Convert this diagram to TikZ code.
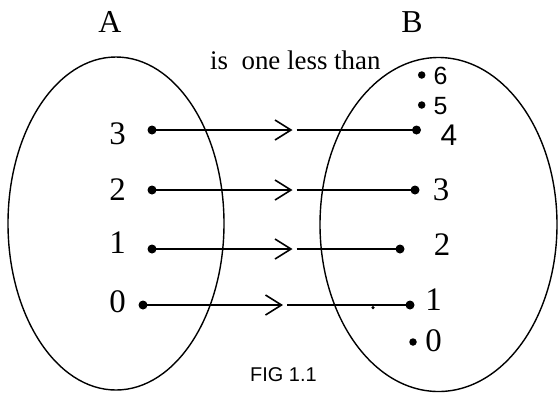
\documentclass[tikz,border=0pt]{standalone}
\usepackage{fontspec}
\setmainfont{Liberation Serif}
\newfontfamily\arialf{Liberation Sans}
\usetikzlibrary{arrows.meta}
\begin{document}
\begin{tikzpicture}[x=1bp,y=-1bp,
  dotnode/.style={circle,fill=black,inner sep=0pt,minimum size=9bp},
  smalldot/.style={circle,fill=black,inner sep=0pt,minimum size=7.5bp},
  lbl/.style={inner sep=0pt,anchor=base,font=\fontsize{33}{33}\selectfont},
  conn/.style={line width=1.6bp},
  barb/.style={line width=1.6bp,-{Straight Barb[length=16bp,width=20bp,line width=1.6bp]}},
  setline/.style={line width=1.4bp}]
\useasboundingbox (0,0) rectangle (558,392);
% sets
\draw[setline] (116,223.5) ellipse [x radius=108, y radius=166.5];
\draw[setline] (438.5,224.5) ellipse [x radius=118.5, y radius=167];
% titles
\node[lbl,font=\fontsize{32}{32}\selectfont] (tA) at (110,32) {A};
\node[lbl,font=\fontsize{32}{32}\selectfont] (tB) at (412,32) {B};
\node[inner sep=0pt,anchor=base west,font=\fontsize{27}{27}\selectfont] (rel) at (210,69) {is\ \ one less than};
\node[inner sep=0pt,anchor=base west,font=\arialf\fontsize{20}{20}\selectfont] (fig) at (250,381) {FIG 1.1};
% left labels
\node[lbl] (l3) at (117.5,144.5) {3};
\node[lbl] (l2) at (117.5,200.5) {2};
\node[lbl] (l1) at (117.5,253.5) {1};
\node[lbl] (l0) at (117.5,312.5) {0};
% right labels
\node[lbl,font=\arialf\fontsize{25}{25}\selectfont] (r6) at (440.5,84) {6};
\node[lbl,font=\arialf\fontsize{25}{25}\selectfont] (r5) at (440.5,114) {5};
\node[lbl,font=\arialf\fontsize{30}{30}\selectfont] (r4) at (449,145) {4};
\node[lbl] (r3) at (441,200.5) {3};
\node[lbl] (r2) at (442,255) {2};
\node[lbl] (r1) at (433.5,310) {1};
\node[lbl] (r0) at (433.5,351) {0};
% dots in A
\node[dotnode] (a3) at (152,130) {};
\node[dotnode] (a2) at (152,190) {};
\node[dotnode] (a1) at (152,249) {};
\node[dotnode] (a0) at (143,305) {};
% dots in B
\node[smalldot] (b6) at (421.7,75) {};
\node[smalldot] (b5) at (421.7,105) {};
\node[dotnode] (b4) at (416.5,130) {};
\node[dotnode] (b3) at (415,190) {};
\node[dotnode] (b2) at (400,249) {};
\node[dotnode] (b1) at (410,305) {};
\node[smalldot] (b0) at (413,342) {};
\node[circle,fill=black,inner sep=0pt,minimum size=3.5bp] (stray) at (373,307.5) {};
% arrow tips and restart points
\coordinate (m3) at (292.5,130);   \coordinate (n3) at (296.5,130);
\coordinate (m2) at (292.5,190);   \coordinate (n2) at (296.5,190);
\coordinate (m1) at (292.5,249);   \coordinate (n1) at (296.5,249);
\coordinate (m0) at (283,305);     \coordinate (n0) at (287,305);
% connectors
\draw[barb] (a3.center) -- (m3);
\draw[conn] (n3) -- (b4.center);
\draw[barb] (a2.center) -- (m2);
\draw[conn] (n2) -- (b3.center);
\draw[barb] (a1.center) -- (m1);
\draw[conn] (n1) -- (b2.center);
\draw[barb] (a0.center) -- (m0);
\draw[conn] (n0) -- (b1.center);
\end{tikzpicture}
\end{document}
